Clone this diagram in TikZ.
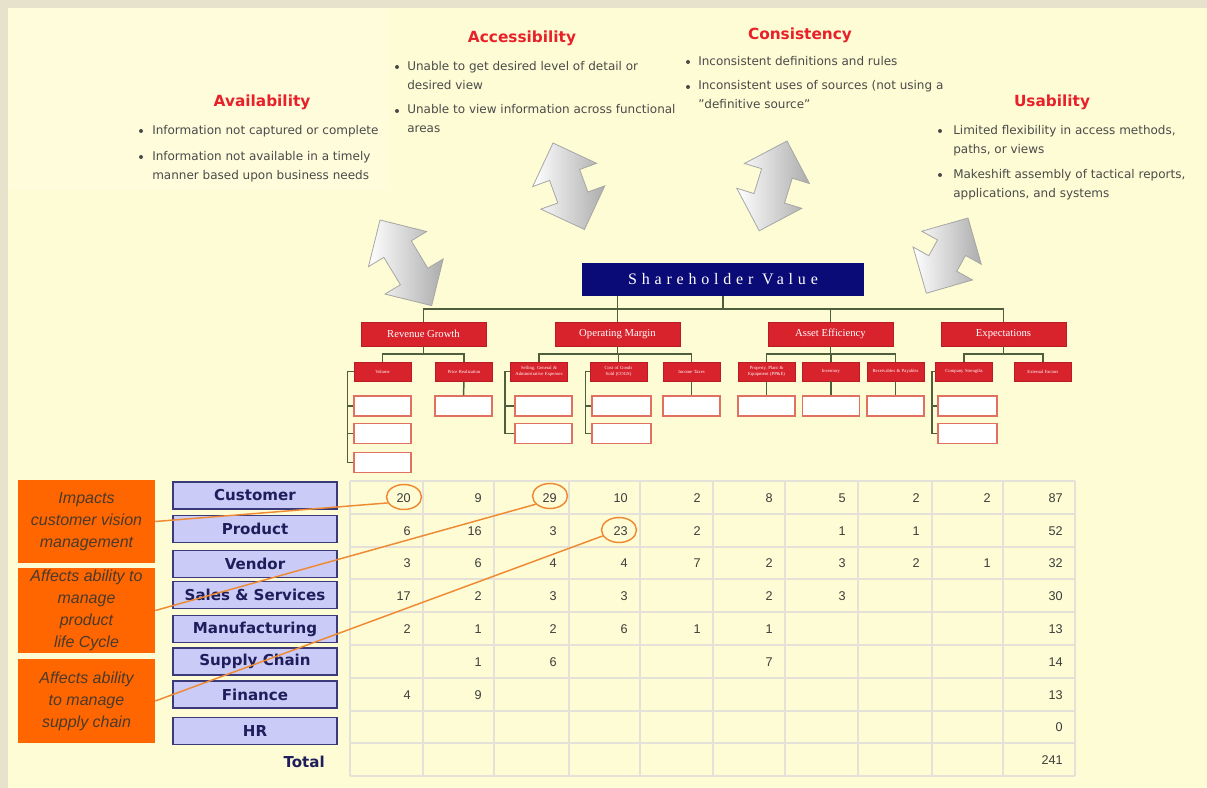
\documentclass[tikz,border=0pt]{standalone}
\usepackage{fontspec}
\setmainfont{DejaVu Sans}
\newfontfamily\arialf{Liberation Sans}
\newfontfamily\timesf{Liberation Serif}
\newfontfamily\svfont[LetterSpace=30]{Liberation Serif}
\usetikzlibrary{shapes.geometric,calc}
\definecolor{bg}{HTML}{FEFCD4}
\definecolor{frame}{HTML}{E6E2CC}
\definecolor{ttl}{HTML}{E8202A}
\definecolor{txt}{HTML}{4A4A4A}
\definecolor{navy}{HTML}{0B0B78}
\definecolor{orgred}{HTML}{D8222C}
\definecolor{orgline}{HTML}{4F5E3C}
\definecolor{leafred}{HTML}{E0705F}
\definecolor{lav}{HTML}{CBCBF7}
\definecolor{lavb}{HTML}{3A3A7A}
\definecolor{lbl}{HTML}{1E1E5C}
\definecolor{orng}{HTML}{FF6600}
\definecolor{orngline}{HTML}{EE8A34}
\definecolor{otext}{HTML}{4A3A2C}
\definecolor{gridc}{HTML}{E3E1D8}
\definecolor{num}{HTML}{3C3C3C}
\tikzset{
 ttlstyle/.style={text=ttl, font=\bfseries\fontsize{11.5}{14}\selectfont, inner sep=0},
 bul/.style={text=txt, font=\fontsize{9}{14.25}\selectfont, inner sep=0, anchor=base west, align=left},
 l1box/.style={fill=orgred, draw=orgred!85!black, line width=0.6pt, minimum width=125*0.75pt, minimum height=24*0.75pt, inner sep=0, text=white, font=\timesf\fontsize{8}{9}\selectfont},
 l2box/.style={fill=orgred, draw=orgred!85!black, line width=0.5pt, minimum width=57*0.75pt, minimum height=19*0.75pt, inner sep=0.5pt, text=white, font=\timesf\fontsize{3.5}{4}\selectfont, align=center, text width=50*0.75pt},
 leaf/.style={fill=white, draw=leafred, line width=0.9pt, minimum width=57*0.75pt, minimum height=20*0.75pt, inner sep=0},
 conn/.style={draw=orgline, line width=1.1pt},
 rowlbl/.style={fill=lav, draw=lavb, line width=1.1pt, minimum width=164*0.75pt, minimum height=27*0.75pt, inner sep=0, text=lbl, font=\bfseries\fontsize{11.3}{13}\selectfont},
 obox/.style={fill=orng, minimum width=137*0.75pt, inner sep=0, text=otext, font=\arialf\itshape\fontsize{12}{16.5}\selectfont, align=center},
 oline/.style={draw=orngline, line width=1.1pt},
 circ/.style={ellipse, draw=orngline, line width=1.1pt, minimum width=35*0.75pt, minimum height=25*0.75pt, inner sep=0},
 numst/.style={text=num, font=\arialf\fontsize{9.5}{11}\selectfont, anchor=east, inner sep=0},
 gridline/.style={draw=gridc, line width=1.2pt},
 arrowshape/.style={draw=gray!70, line width=0.6pt, left color=white, right color=gray!65},
}
\newcommand\dblarrow[4]{%
 \begin{scope}[shift={(#1,#2)},rotate=#3]
 \pgfmathsetmacro\Lh{#4-34}
 \path[arrowshape] (0,0) -- (34,34) -- (34,16) -- (\Lh,16) -- (\Lh,34) -- (#4,0) -- (\Lh,-34) -- (\Lh,-16) -- (34,-16) -- (34,-34) -- cycle;
 \end{scope}}
\begin{document}
\begin{tikzpicture}[x=0.75pt,y=-0.75pt]
\useasboundingbox (0,0) rectangle (1207,788);
\fill[bg] (0,0) rectangle (1207,788);
\fill[frame] (0,0) rectangle (1207,8);
\fill[frame] (0,0) rectangle (8,788);
\fill[bg!85!white] (8,8) rectangle (390,190);

% titles
\node[ttlstyle] (t-avail) at (262,102) {Availability};
\node[ttlstyle] (t-access) at (522,38) {Accessibility};
\node[ttlstyle] (t-cons) at (800,35) {Consistency};
\node[ttlstyle] (t-usab) at (1052,102) {Usability};

% bullets (anchor = baseline of the last line)
\node[bul] (b-av1) at (152,135) {Information not captured or complete};
\node[bul] (b-av2) at (152,180) {Information not available in a timely\\manner based upon business needs};
\fill[txt] (141,131) circle (1.5pt) (141,157) circle (1.5pt);
\node[bul] (b-ac1) at (407,90) {Unable to get desired level of detail or\\desired view};
\node[bul] (b-ac2) at (407,133) {Unable to view information across functional\\areas};
\fill[txt] (397,67) circle (1.5pt) (397,111) circle (1.5pt);
\node[bul] (b-co1) at (698,66) {Inconsistent definitions and rules};
\node[bul] (b-co2) at (698,109) {Inconsistent uses of sources (not using a\\\symbol{34}definitive source\symbol{34}};
\fill[txt] (688,62) circle (1.5pt) (688,87) circle (1.5pt);
\node[bul] (b-us1) at (953,154) {Limited flexibility in access methods,\\paths, or views};
\node[bul] (b-us2) at (953,198) {Makeshift assembly of tactical reports,\\applications, and systems};
\fill[txt] (940,131) circle (1.5pt) (940,175) circle (1.5pt);

% block arrows
\dblarrow{380}{220}{-58.9}{100}
\dblarrow{553}{143}{-70}{92}
\dblarrow{787}{141}{-107.2}{94}
\dblarrow{968}{218}{-119}{86}

% org chart
\node[fill=navy, minimum width=282*0.75pt, minimum height=33*0.75pt, inner sep=0, text=white, font=\svfont\fontsize{12}{14}\selectfont] (sv) at (723,279.5) {\raisebox{-3pt}{Shareholder Value}};
\node[l1box] (rg) at (423.5,334) {Revenue Growth};
\node[l1box] (om) at (617.5,334) {Operating Margin};
\node[l1box] (ae) at (830.5,334) {Asset Efficiency};
\node[l1box] (ex) at (1003.5,334) {Expectations};
\coordinate (bus) at (0,309);
\draw[conn] (rg.north) |- (ex.north |- bus) -- (ex.north);
\draw[conn] (sv.south) -- (sv.south |- bus);
\draw[conn] (ae.north) -- (ae.north |- bus);
\draw[conn] (sv.south -| om.north) -- (om.north);

\node[l2box] (vol) at (382.5,371.5) {Volume};
\node[l2box] (pr) at (464,371.5) {Price Realization};
\node[l2box] (sga) at (539,371.5) {Selling, General \& Administrative Expenses};
\node[l2box] (cogs) at (618.5,371.5) {Cost of Goods Sold (COGS)};
\node[l2box] (tax) at (691.5,371.5) {Income Taxes};
\node[l2box] (ppe) at (766.5,371.5) {Property, Plant \& Equipment (PP\&E)};
\node[l2box] (inv) at (831,371.5) {Inventory};
\node[l2box] (rec) at (895.5,371.5) {Receivables \& Payables};
\node[l2box] (cs) at (964,371.5) {Company Strengths};
\node[l2box] (ef) at (1043,371.5) {External Factors};
\coordinate (b2) at (0,354);
\draw[conn] (vol.north) |- (pr.north |- b2) -- (pr.north);
\draw[conn] (rg.south) -- (rg.south |- b2);
\draw[conn] (sga.north) |- (tax.north |- b2) -- (tax.north);
\draw[conn] (om.south) -- (om.south |- b2);
\draw[conn] (cogs.north) -- (cogs.north |- b2);
\draw[conn] (ppe.north) |- (rec.north |- b2) -- (rec.north);
\draw[conn] (ae.south) -- (ae.south |- b2);
\draw[conn] (inv.north) -- (inv.north |- b2);
\draw[conn] (cs.north) |- (ef.north |- b2) -- (ef.north);
\draw[conn] (ex.south) -- (ex.south |- b2);

\node[leaf] (v1) at (382.5,406) {};
\node[leaf] (v2) at (382.5,433.5) {};
\node[leaf] (v3) at (382.5,462.5) {};
\node[leaf] (p1) at (463.5,406) {};
\node[leaf] (s1) at (543.5,406) {};
\node[leaf] (s2) at (543.5,433.5) {};
\node[leaf, minimum width=59*0.75pt] (c1) at (621.5,406) {};
\node[leaf, minimum width=59*0.75pt] (c2) at (621.5,433.5) {};
\node[leaf] (tx1) at (691.5,406) {};
\node[leaf] (pp1) at (766.5,406) {};
\node[leaf] (in1) at (831,406) {};
\node[leaf] (rc1) at (895.5,406) {};
\node[leaf, minimum width=59*0.75pt] (cs1) at (967.5,406) {};
\node[leaf, minimum width=59*0.75pt] (cs2) at (967.5,433.5) {};
\draw[conn] (vol.west) -- ++(-6,0) coordinate (vs) |- (v3.west);
\draw[conn] (vs |- v1.west) -- (v1.west);
\draw[conn] (vs |- v2.west) -- (v2.west);
\draw[conn] (pr.south) -- (p1.north);
\draw[conn] (sga.west) -- ++(-5,0) coordinate (ss) |- (s2.west);
\draw[conn] (ss |- s1.west) -- (s1.west);
\draw[conn] (cogs.west) -- ++(-4,0) coordinate (cg) |- (c2.west);
\draw[conn] (cg |- c1.west) -- (c1.west);
\draw[conn] (tax.south) -- (tx1.north);
\draw[conn] (ppe.south) -- (pp1.north);
\draw[conn] (inv.south) -- (in1.north);
\draw[conn] (rec.south) -- (rc1.north);
\draw[conn] (cs.west) -- ++(-3,0) coordinate (cx) |- (cs2.west);
\draw[conn] (cx |- cs1.west) -- (cs1.west);

% table grid
\foreach \yy in {481,514,547,579,612,645,678,711,743,776} \draw[gridline] (350,\yy) -- (1075,\yy);
\foreach \xx in {350,423,494,569,640,713,785,858,932,1003,1075} \draw[gridline] (\xx,481) -- (\xx,776);
\def\colR{{423,494,569,640,713,785,858,932,1003,1075}}
\def\rowY{{498,531,563,596,629,662,695,727,760}}
\foreach \vals [count=\r] in {
 {20,9,29,10,2,8,5,2,2,87},
 {6,16,3,23,2,{},1,1,{},52},
 {3,6,4,4,7,2,3,2,1,32},
 {17,2,3,3,{},2,3,{},{},30},
 {2,1,2,6,1,1,{},{},{},13},
 {{},1,6,{},{},7,{},{},{},14},
 {4,9,{},{},{},{},{},{},{},13},
 {{},{},{},{},{},{},{},{},{},0},
 {{},{},{},{},{},{},{},{},{},241}}{
 \foreach \v [count=\c] in \vals {
  \pgfmathsetmacro\xx{\colR[\c-1]-12}
  \pgfmathsetmacro\yy{\rowY[\r-1]}
  \node[numst] (n-\r-\c) at (\xx,\yy) {\v};
 }
}
\node[circ] (e1) at (404,497) {};
\node[circ] (e2) at (550,496) {};
\node[circ] (e3) at (619,530) {};

% row labels
\node[rowlbl] (rl-cust) at (255,495.5) {Customer};
\node[rowlbl] (rl-prod) at (255,529) {Product};
\node[rowlbl] (rl-vend) at (255,564) {Vendor};
\node[rowlbl] (rl-sales) at (255,595) {Sales \& Services};
\node[rowlbl] (rl-manu) at (255,629) {Manufacturing};
\node[rowlbl] (rl-supp) at (255,661.5) {Supply Chain};
\node[rowlbl] (rl-fin) at (255,694.5) {Finance};
\node[rowlbl] (rl-hr) at (255,731) {HR};
\node[anchor=east, inner sep=0, text=lbl, font=\bfseries\fontsize{11.3}{13}\selectfont] (rl-total) at (325,762) {Total};

% orange notes
\node[obox, minimum height=83*0.75pt] (ob1) at (86.5,521.5) {Impacts\\customer vision\\management};
\node[obox, minimum height=85*0.75pt] (ob2) at (86.5,610.5) {Affects ability to\\manage\\product\\life Cycle};
\node[obox, minimum height=84*0.75pt] (ob3) at (86.5,701) {Affects ability\\to manage\\supply chain};
\draw[oline] (ob1.east) -- (e1.200);
\draw[oline] (ob2.east) -- (e2.210);
\draw[oline] (ob3.east) -- (e3.200);
\end{tikzpicture}
\end{document}
